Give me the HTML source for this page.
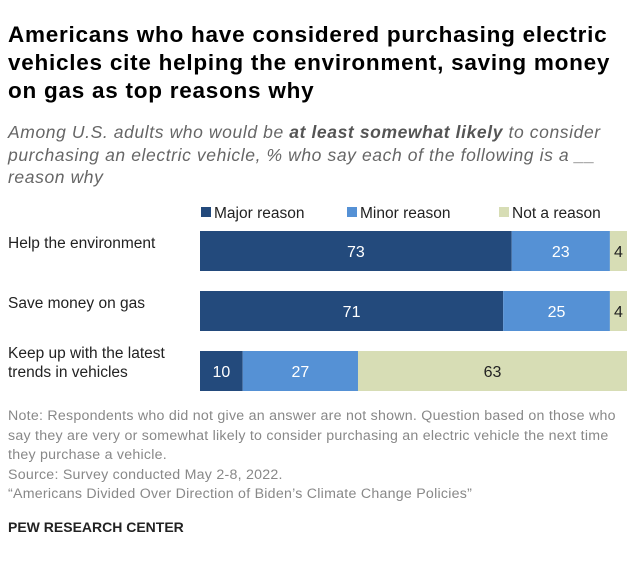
<!DOCTYPE html>
<html><head><meta charset="utf-8"><style>
body{margin:0;width:640px;height:565px;background:#fff;font-family:"Liberation Sans",Arial,sans-serif;position:relative;overflow:hidden}
.t{position:absolute;left:8px;top:21px;font-size:22.5px;font-weight:bold;line-height:28px;color:#000;width:625px;letter-spacing:0.75px}
.s{position:absolute;left:8px;top:121px;font-size:17.5px;font-style:italic;line-height:22.5px;color:#666;width:628px;letter-spacing:0.6px}
.n{position:absolute;left:8px;top:407px;font-size:14.2px;line-height:19.5px;color:#888;width:632px;letter-spacing:0.25px}
.p{position:absolute;left:8px;top:519px;font-size:14px;font-weight:bold;color:#222}
</style></head><body>
<div class="t">Americans who have considered purchasing electric<br>vehicles cite helping the environment, saving money<br>on gas as top reasons why</div>
<div class="s">Among U.S. adults who would be <b style="color:#555">at least somewhat likely</b> to consider<br>purchasing an electric vehicle, % who say each of the following is a __<br>reason why</div>
<svg id="c" width="640" height="410" style="position:absolute;left:0;top:0"></svg>
<div class="n">Note: Respondents who did not give an answer are not shown. Question based on those who<br>say they are very or somewhat likely to consider purchasing an electric vehicle the next time<br>they purchase a vehicle.<br>Source: Survey conducted May 2-8, 2022.<br>“Americans Divided Over Direction of Biden’s Climate Change Policies”</div>
<div class="p">PEW RESEARCH CENTER</div>
<script>
const categories=[["Help the environment"],["Save money on gas"],["Keep up with the latest","trends in vehicles"]];
const seriesNames=["Major reason","Minor reason","Not a reason"];
const major=[73,71,10];
const minor=[23,25,27];
const notR=[4,4,63];
const colors=["#234a7c","#5591d5","#d7ddb5"];
const txtColors=["#fff","#fff","#222"];
const svg=document.getElementById('c');
const NS="http://www.w3.org/2000/svg";
const x0=200,w=427;
const xs=v=>v*w/100;
const rowY=i=>231+i*60;
const bh=40;
function mk(tag,a){const e=document.createElementNS(NS,tag);for(const k in a)e.setAttribute(k,a[k]);svg.appendChild(e);return e;}
const legX=[201,347,499];
seriesNames.forEach((s,j)=>{
 const r=mk('rect',{x:legX[j],y:207,width:10,height:10,fill:colors[j]});
 
 
 const t=mk('text',{x:legX[j]+13,y:218,'font-size':15.5,fill:'#222'});t.textContent=s;
 
 
});
const series=[major,minor,notR];
categories.forEach((c,i)=>{
 const y=rowY(i);
 c.forEach((line,k)=>{
  const t=mk('text',{x:8,y:(c.length==1?y+17:y+7+k*19),'font-size':15.5,fill:'#222'});t.textContent=line;
  
  
 });
 let acc=0;
 series.forEach((arr,j)=>{
  const v=arr[i];
  const r=mk('rect',{x:x0+xs(acc),y:y,width:xs(v),height:bh,fill:colors[j]});
  
  
  const t=mk('text',{x:x0+xs(acc+v/2),y:y+26,'font-size':16,fill:txtColors[j],'text-anchor':'middle'});t.textContent=v;
  
  
  acc+=v;
 });
});
</script>
</body></html>
